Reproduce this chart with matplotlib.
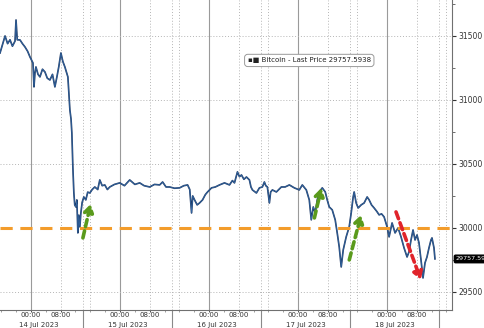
import matplotlib
matplotlib.use('Agg')
import matplotlib.pyplot as plt
import matplotlib.transforms as mtransforms

plt.rcParams['font.family'] = 'DejaVu Sans'

# hours since 14 Jul 2023 00:00, Bitcoin last price
hours = [-8.34, -7.6, -6.99, -6.3, -5.65, -5.0, -4.30, -4.03, -3.7, -2.96, -2.3, -1.61, -0.9, -0.27,
         0.54, 0.81, 1.08, 1.34, 1.9, 2.42, 3.1, 3.76, 4.4, 5.11, 5.8, 6.45, 6.99, 7.5, 8.07, 8.6,
         9.14, 9.95, 10.49, 10.8, 11.02, 11.29, 11.56, 11.8, 12.10, 12.37, 12.64, 12.9, 13.18, 13.45,
         13.8, 14.25, 14.79, 15.3, 15.87, 16.5, 17.21, 18.0, 18.55, 19.2, 19.90, 20.6, 21.24, 22.5,
         23.93, 25.2, 26.62, 28.0, 29.31, 30.5, 32.00, 33.3, 34.69, 35.49, 36.4, 37.38, 38.7, 40.07,
         41.2, 42.22, 42.8, 43.29, 43.6, 44.10, 44.8, 45.44, 46.25, 47.0, 47.60, 48.67, 49.7, 50.82,
         52.17, 53.51, 54.3, 54.86, 55.66, 56.2, 56.74, 57.4, 58.08, 58.89, 59.3, 59.70, 60.77, 61.58,
         62.38, 62.92, 63.3, 63.73, 64.27, 64.6, 65.07, 66.15, 67.49, 68.5, 69.65, 70.99, 72.33, 73.14,
         74.22, 75.02, 75.56, 76.10, 76.64, 77.17, 77.71, 78.52, 79.33, 79.86, 80.40, 81.21, 82.01,
         82.55, 83.09, 83.63, 84.17, 84.97, 85.78, 86.32, 86.85, 87.12, 87.66, 88.20, 89.01, 89.81,
         90.62, 91.16, 91.8, 92.50, 93.2, 93.85, 94.5, 95.19, 96.00, 96.54, 97.34, 98.15, 98.96,
         99.76, 100.57, 101.38, 101.91, 102.45, 102.99, 103.53, 104.06, 104.60, 105.14, 105.68,
         106.22, 106.75, 107.29, 107.83, 108.10, 108.64, 108.90]
prices = [31367, 31440, 31500, 31440, 31470, 31420, 31460, 31625, 31470, 31469, 31440, 31414, 31380, 31336,
          31289, 31102, 31211, 31258, 31200, 31180, 31240, 31219, 31170, 31156, 31200, 31102, 31180, 31260,
          31367, 31300, 31258, 31180, 30922, 30850, 30742, 30477, 30273, 30180, 30164, 30219, 29961, 30100,
          30008, 30117, 30200, 30242, 30219, 30280, 30273, 30300, 30320, 30300, 30375, 30330, 30336, 30300,
          30320, 30340, 30352, 30330, 30375, 30340, 30352, 30330, 30320, 30340, 30336, 30359, 30320, 30320,
          30310, 30313, 30330, 30336, 30300, 30117, 30250, 30219, 30180, 30195, 30219, 30260, 30281, 30313,
          30320, 30336, 30352, 30336, 30370, 30352, 30438, 30400, 30414, 30380, 30398, 30375, 30320, 30297,
          30273, 30313, 30320, 30359, 30330, 30320, 30195, 30280, 30297, 30281, 30320, 30320, 30336, 30313,
          30297, 30336, 30297, 30219, 30063, 30164, 30117, 30219, 30281, 30313, 30281, 30219, 30164, 30141,
          30063, 29961, 29852, 29695, 29828, 29930, 30008, 30117, 30242, 30281, 30195, 30156, 30180, 30195,
          30242, 30219, 30180, 30156, 30130, 30102, 30110, 30086, 30008, 29930, 30039, 29961, 30000, 29930,
          29844, 29773, 29813, 29906, 29984, 29906, 29945, 29883, 29750, 29609, 29727, 29773, 29844, 29906,
          29922, 29844, 29758]

last_price = 29757.5938
level = 30000

day_labels = ['14 Jul 2023', '15 Jul 2023', '16 Jul 2023', '17 Jul 2023', '18 Jul 2023']
day_starts = [0, 24, 48, 72, 96]
y_ticks = [29500, 30000, 30500, 31000, 31500]

# (tail hours, tail price, head hours, head price)
green_arrows = [(14.0, 29922, 16.1, 30188),
                (76.4, 30078, 78.3, 30313),
                (85.8, 29750, 89.0, 30102)]
red_arrows = [(98.4, 30125, 105.1, 29594)]

fig = plt.figure(figsize=(4.85, 3.28), dpi=100)
ax = fig.add_axes([0.0, 0.055, 0.932, 0.945])
ax.set_xlim(-8.35, 113.5)
ax.set_ylim(29359, 31781)

# grid
for d in day_starts:
    ax.axvline(d, color='#9a9a9a', lw=0.8, zorder=1)
    for off in (8, 14, 16):
        ax.axvline(d + off, color='#b5b5b5', lw=0.7, ls=(0, (1, 2)), zorder=1)
for yv in y_ticks:
    if yv != level:
        ax.axhline(yv, color='#b5b5b5', lw=0.7, ls=(0, (1, 2)), zorder=1)

ax.plot(hours, prices, color='#1d3a66', lw=1.2, zorder=3)
ax.plot(hours, prices, color='#3f7fc4', lw=0.4, zorder=3, alpha=0.8)
ax.axhline(level, color='#f39c2b', lw=2.2, ls=(0, (4, 2.5)), zorder=4)

arrow_style = '-|>,head_length=0.45,head_width=0.28'
for x0, y0, x1, y1 in green_arrows:
    ax.annotate('', xy=(x1, y1), xytext=(x0, y0),
                arrowprops=dict(arrowstyle=arrow_style, lw=2.6,
                                ls=(0, (2, 1.2)), color='#5a9a1c', shrinkA=0, shrinkB=0),
                zorder=5)
for x0, y0, x1, y1 in red_arrows:
    ax.annotate('', xy=(x1, y1), xytext=(x0, y0),
                arrowprops=dict(arrowstyle=arrow_style, lw=2.6,
                                ls=(0, (2, 1.2)), color='#e0242b', shrinkA=0, shrinkB=0),
                zorder=5)

# axes styling
for s in ('top', 'left'):
    ax.spines[s].set_visible(False)
for s in ('right', 'bottom'):
    ax.spines[s].set_color('#707070')
    ax.spines[s].set_linewidth(0.8)

ax.yaxis.tick_right()
ax.set_yticks(y_ticks)
ax.set_yticklabels([str(v) for v in y_ticks])
ax.set_yticks([29750, 30250, 30750, 31250, 31750], minor=True)
ax.tick_params(axis='y', which='major', direction='out', length=3, width=0.8, pad=1.5,
               labelsize=5.5, colors='#333333')
ax.tick_params(axis='y', which='minor', direction='out', length=2, width=0.6, colors='#555555')

xt = []
xl = []
for d in day_starts:
    xt += [d, d + 8]
    xl += ['00:00', '08:00']
ax.set_xticks(xt)
ax.set_xticklabels(xl)
ax.set_xticks([d + o for d in [-24] + day_starts for o in (4, 12, 16, 20)
               if -8.35 < d + o < 113.5], minor=True)
ax.tick_params(axis='x', which='major', direction='out', length=1.5, width=0.6, pad=0.2,
               labelsize=5.0, colors='#333333')
ax.tick_params(axis='x', which='minor', direction='out', length=1.2, width=0.5, colors='#777777')

trans = mtransforms.blended_transform_factory(ax.transData, ax.transAxes)
for d, lab in zip(day_starts, day_labels):
    ax.text(d + 2, -0.049, lab, transform=trans, ha='center', va='center',
            fontsize=5.0, color='#333333')
    ax.plot([d + 14, d + 14], [0, -0.06], transform=trans, color='#8a8a8a',
            lw=0.8, clip_on=False)

# legend box
ax.text(0.548, 0.805, '\u25aa\u25a0 Bitcoin - Last Price 29757.5938', transform=ax.transAxes,
        fontsize=5.0, color='#222222', va='center', ha='left',
        bbox=dict(boxstyle='round,pad=0.45', fc='white', ec='#9a9a9a', lw=0.7), zorder=6)

# last price tag
ytrans = mtransforms.blended_transform_factory(ax.transAxes, ax.transData)
ax.text(1.008, last_price, f'{last_price:.2f}', transform=ytrans, fontsize=4.6, color='white',
        va='center', ha='left',
        bbox=dict(boxstyle='round,pad=0.2', fc='black', ec='black'), clip_on=False)

fig.savefig('out.png', dpi=100)
